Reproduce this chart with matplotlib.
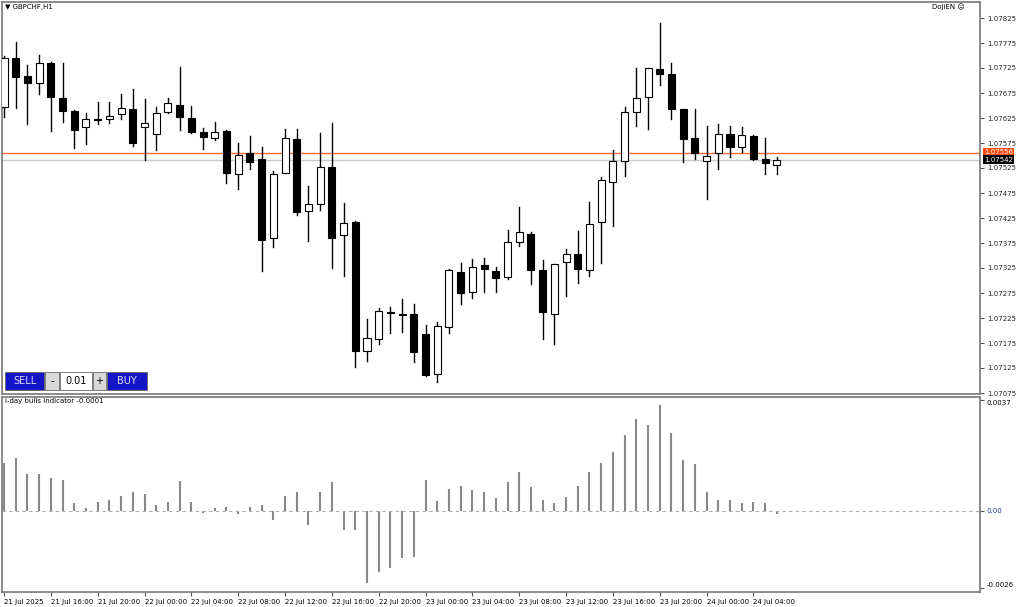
import matplotlib
matplotlib.use("Agg")
import matplotlib.pyplot as plt
from matplotlib.patches import Rectangle

opens = [1.07647,1.07745,1.07709,1.07695,1.07735,1.07665,1.07639,1.07607,1.07621,1.07623,
         1.07633,1.07643,1.07607,1.07593,1.07637,1.07651,1.07625,1.07597,1.07585,1.07599,
         1.07513,1.07555,1.07543,1.07385,1.07515,1.07583,1.07439,1.07453,1.07527,1.07391,
         1.07417,1.07159,1.07183,1.07237,1.07233,1.07233,1.07193,1.07113,1.07207,1.07317,
         1.07277,1.07331,1.07319,1.07307,1.07377,1.07393,1.07321,1.07233,1.07337,1.07353,
         1.07321,1.07417,1.07497,1.07539,1.07637,1.07667,1.07723,1.07713,1.07643,1.07585,
         1.07539,1.07555,1.07593,1.07567,1.07589,1.07543,1.07531]
highs = [1.07750,1.07777,1.07731,1.07751,1.07737,1.07735,1.07641,1.07635,1.07657,1.07657,
         1.07673,1.07683,1.07663,1.07647,1.07665,1.07727,1.07649,1.07605,1.07617,1.07601,
         1.07575,1.07589,1.07567,1.07519,1.07603,1.07603,1.07489,1.07595,1.07615,1.07455,
         1.07419,1.07223,1.07245,1.07247,1.07263,1.07253,1.07211,1.07217,1.07323,1.07335,
         1.07343,1.07345,1.07327,1.07401,1.07447,1.07397,1.07341,1.07333,1.07363,1.07399,
         1.07457,1.07507,1.07561,1.07647,1.07725,1.07725,1.07815,1.07735,1.07643,1.07643,
         1.07609,1.07613,1.07609,1.07607,1.07591,1.07585,1.07547]
lows = [1.07627,1.07645,1.07613,1.07673,1.07599,1.07617,1.07565,1.07573,1.07613,1.07615,
        1.07623,1.07569,1.07541,1.07561,1.07635,1.07601,1.07595,1.07563,1.07581,1.07495,
        1.07483,1.07523,1.07319,1.07367,1.07515,1.07431,1.07379,1.07441,1.07325,1.07309,
        1.07127,1.07139,1.07173,1.07195,1.07197,1.07137,1.07109,1.07097,1.07195,1.07253,
        1.07265,1.07277,1.07277,1.07303,1.07369,1.07293,1.07183,1.07173,1.07269,1.07295,
        1.07309,1.07335,1.07409,1.07509,1.07609,1.07603,1.07691,1.07623,1.07537,1.07543,
        1.07463,1.07523,1.07547,1.07557,1.07541,1.07513,1.07513]
closes = [1.07745,1.07707,1.07695,1.07735,1.07667,1.07639,1.07601,1.07623,1.07623,1.07629,
          1.07645,1.07575,1.07615,1.07635,1.07655,1.07627,1.07597,1.07587,1.07597,1.07515,
          1.07551,1.07537,1.07381,1.07513,1.07585,1.07437,1.07453,1.07527,1.07385,1.07415,
          1.07159,1.07185,1.07239,1.07235,1.07231,1.07157,1.07111,1.07209,1.07321,1.07275,
          1.07327,1.07323,1.07305,1.07377,1.07397,1.07321,1.07237,1.07333,1.07353,1.07323,
          1.07413,1.07501,1.07539,1.07637,1.07665,1.07725,1.07713,1.07643,1.07583,1.07555,
          1.07549,1.07593,1.07567,1.07591,1.07543,1.07535,1.07541]
bulls = [0.00160,0.00177,0.00121,0.00124,0.00110,0.00104,0.00024,0.00008,0.00030,0.00034,
         0.00048,0.00063,0.00054,0.00020,0.00028,0.00100,0.00030,-0.00008,0.00008,0.00013,
         -0.00011,0.00013,0.00020,-0.00030,0.00050,0.00063,-0.00047,0.00063,0.00096,-0.00064,
         -0.00064,-0.00243,-0.00206,-0.00191,-0.00159,-0.00154,0.00102,0.00031,0.00074,0.00084,
         0.00070,0.00062,0.00043,0.00096,0.00129,0.00080,0.00037,0.00024,0.00047,0.00084,
         0.00129,0.00160,0.00195,0.00254,0.00308,0.00286,0.00353,0.00259,0.00170,0.00155,
         0.00062,0.00034,0.00037,0.00026,0.00028,0.00024,-0.00010]
price_ticks = [1.07825,1.07775,1.07725,1.07675,1.07625,1.07575,1.07525,1.07475,1.07425,
               1.07375,1.07325,1.07275,1.07225,1.07175,1.07125,1.07075]
time_idx = [0,4,8,12,16,20,24,28,32,36,40,44,48,52,56,60,64]
time_labels = ["21 Jul 2025","21 Jul 16:00","21 Jul 20:00","22 Jul 00:00","22 Jul 04:00",
               "22 Jul 08:00","22 Jul 12:00","22 Jul 16:00","22 Jul 20:00","23 Jul 00:00",
               "23 Jul 04:00","23 Jul 08:00","23 Jul 12:00","23 Jul 16:00","23 Jul 20:00",
               "24 Jul 00:00","24 Jul 04:00"]
ask_price = 1.07556
bid_price = 1.07542

W, H = 1024, 607
fig = plt.figure(figsize=(W/100, H/100), dpi=100)
fig.patch.set_facecolor("white")
plt.rcParams['font.family'] = ['DejaVu Sans']

def rect(x0, y0, x1, y1):
    return [x0/W, 1-y1/H, (x1-x0)/W, (y1-y0)/H]

ax = fig.add_axes(rect(2, 2, 980, 394))
ax2 = fig.add_axes(rect(2, 397, 980, 592))
xlim = (-0.17, 83.35)
ax.set_xlim(*xlim); ax2.set_xlim(*xlim)
ax.set_ylim(1.07073, 1.07857)
ax2.set_ylim(-0.00272, 0.00380)

for a in (ax, ax2):
    for s in a.spines.values():
        s.set_color("#777777"); s.set_linewidth(1.2)
    a.set_xticks([])

bw = 0.6
for i, (o, h, l, c) in enumerate(zip(opens, highs, lows, closes)):
    ax.plot([i, i], [l, h], color="black", lw=1, zorder=2)
    up = c >= o
    bot, top = min(o, c), max(o, c)
    ht = max(top - bot, 0.000012)
    ax.add_patch(Rectangle((i - bw/2, bot), bw, ht, facecolor="white" if up else "black",
                           edgecolor="black", lw=0.8, zorder=3))

ax.axhline(ask_price, color="#ff6a33", lw=1, zorder=1)
ax.axhline(bid_price, color="#c8c8c8", lw=1, zorder=1)

ax.yaxis.tick_right()
ax.set_yticks(price_ticks)
ax.set_yticklabels([f"{p:.5f}" for p in price_ticks])
ax.tick_params(axis="y", labelsize=5, length=3, color="#555555", pad=2, labelcolor="#222222")
for p, fc in ((ask_price, "#ff4a0a"), (bid_price, "black")):
    ax.text(1.004, p, f"{p:.5f}", transform=ax.get_yaxis_transform(), fontsize=5,
            color="white", va="center", ha="left",
            bbox=dict(boxstyle="square,pad=0.15", fc=fc, ec="none"))

ax2.vlines(range(len(bulls)), 0, bulls, color="#888888", lw=1.5)
ax2.axhline(0, color="#aaaaaa", lw=0.8, ls=(0, (3, 3)))
ax2.yaxis.tick_right()
ax2.set_yticks([0.0037, 0.0, -0.0026])
ax2.set_yticklabels(["0.0037", "0.00", "-0.0026"])
ax2.tick_params(axis="y", labelsize=5, length=3, pad=2, color="#555555")
ax2.get_yticklabels()[1].set_color("#1a3a8a")
ax2.get_yticklabels()[0].set_va("top")
ax2.get_yticklabels()[2].set_va("bottom")

ax2.set_xticks(time_idx)
ax2.set_xticklabels(time_labels, ha="left")
ax2.tick_params(axis="x", labelsize=5, length=3, pad=2, color="#555555")
for t in ax2.get_xticklabels():
    t.set_x(t.get_position()[0])

fig.text(5/W, 1-7/H, "▼ GBPCHF,H1", fontsize=5, va="center", ha="left")
fig.text(965/W, 1-7/H, "DojiEN ☹", fontsize=5, va="center", ha="right")
fig.text(5/W, 1-401/H, "i-day bulls indicator -0.0001", fontsize=5, va="center", ha="left")

# trade panel
btns = [(5, 44, "#1515c8", "SELL", "#ddddff"), (45, 59, "#d8d8d8", "-", "black"),
        (60, 92, "white", "0.01", "black"), (93, 106, "#d8d8d8", "+", "black"),
        (107, 147, "#1515c8", "BUY", "#ddddff")]
for x0, x1, fc, txt, tc in btns:
    fig.patches.append(Rectangle((x0/W, 1-390/H), (x1-x0)/W, 18/H, transform=fig.transFigure,
                                 facecolor=fc, edgecolor="#666666", lw=0.6))
    fig.text((x0+x1)/2/W, 1-381/H, txt, fontsize=7, color=tc, ha="center", va="center")

fig.savefig("out.png", dpi=100)
